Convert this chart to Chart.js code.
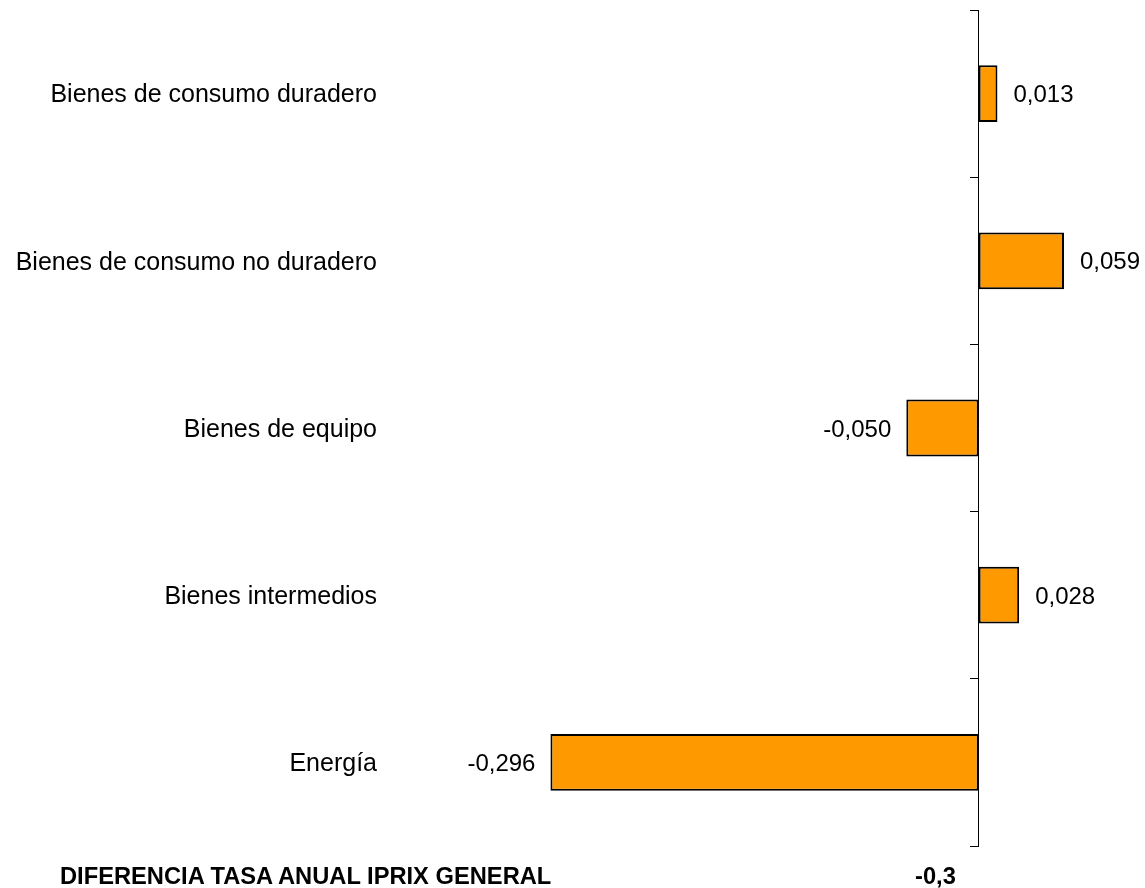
<!DOCTYPE html>
<html>
<head>
<meta charset="utf-8">
<script src="https://cdn.jsdelivr.net/npm/chart.js@4/dist/chart.umd.min.js"></script>
<style>
	html, body { margin: 0; padding: 0; background: #fff; }
	#wrap { position: relative; width: 1145px; height: 888px; overflow: hidden; }
	#chart-box { position: absolute; left: 0; top: -20px; width: 1145px; height: 908px; }
	#footer-label, #footer-value {
		position: absolute; top: 862px;
		font-family: "Liberation Sans", Arial, sans-serif;
		font-weight: bold; font-size: 23.7px; color: #000; line-height: 28px;
	}
	#footer-label { left: 60px; }
	#footer-value { left: 915px; }
</style>
</head>
<body>
<div id="wrap">
	<div id="chart-box"><canvas id="chart"></canvas></div>
	<div id="footer-label"></div>
	<div id="footer-value"></div>
</div>
<script>
const categories = [
	"Bienes de consumo duradero",
	"Bienes de consumo no duradero",
	"Bienes de equipo",
	"Bienes intermedios",
	"Energía"
];
const contributions = [0.013, 0.059, -0.050, 0.028, -0.296];
const totalLabel = "DIFERENCIA TASA ANUAL IPRIX GENERAL";
const totalValue = -0.3;

const barColor = "#FF9900";
const fontFamily = "'Liberation Sans', Arial, sans-serif";

function formatNumber(v, decimals) {
	return v.toFixed(decimals).replace(".", ",");
}

document.getElementById("footer-label").textContent = totalLabel;
document.getElementById("footer-value").textContent = formatNumber(totalValue, 1);

// value labels next to each bar
const valueLabels = {
	id: "valueLabels",
	afterDatasetsDraw(chart) {
		const ctx = chart.ctx;
		const meta = chart.getDatasetMeta(0);
		ctx.save();
		ctx.font = "24px " + fontFamily;
		ctx.fillStyle = "#000";
		ctx.textBaseline = "middle";
		meta.data.forEach((bar, i) => {
			const v = contributions[i];
			const text = formatNumber(v, 3);
			if (v >= 0) {
				ctx.textAlign = "left";
				ctx.fillText(text, bar.x + 16, bar.y + 2);
			} else {
				ctx.textAlign = "right";
				ctx.fillText(text, bar.x - 15, bar.y + 2);
			}
		});
		ctx.restore();
	}
};

new Chart(document.getElementById("chart"), {
	type: "bar",
	data: {
		labels: categories,
		datasets: [{
			data: contributions,
			backgroundColor: barColor,
			borderColor: "#000",
			borderWidth: 2,
			borderSkipped: false,
			barPercentage: 0.34,
			categoryPercentage: 1
		}]
	},
	options: {
		indexAxis: "y",
		responsive: true,
		maintainAspectRatio: false,
		animation: false,
		layout: { padding: { top: -12, bottom: 42, left: 0, right: 0 } },
		plugins: {
			legend: { display: false },
			tooltip: { enabled: false }
		},
		scales: {
			x: {
				display: false,
				min: -0.4,
				max: 0.115
			},
			y: {
				position: "left",
				grid: { display: false },
				border: { display: false },
				ticks: {
					color: "#000",
					padding: 15,
					labelOffset: 2,
					font: { family: fontFamily, size: 25 }
				},
				afterFit(scale) { scale.width = 400; }
			},
			yZero: {
				axis: "y",
				type: "category",
				position: { x: 0 },
				offset: true,
				border: { display: true, color: "#000", width: 1 },
				grid: {
					display: true,
					offset: true,
					drawOnChartArea: false,
					drawTicks: true,
					tickLength: 8,
					color: "#000"
				},
				ticks: { display: false }
			}
		}
	},
	plugins: [valueLabels]
});
</script>
</body>
</html>
